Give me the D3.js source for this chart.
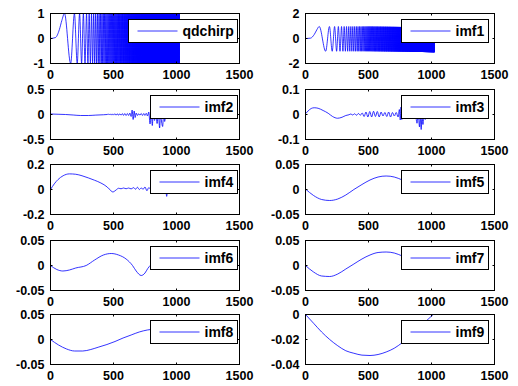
<!DOCTYPE html>
<html>
<head>
    <meta charset="utf-8">
    <title>qdchirp EMD</title>
    <script src="https://cdn.jsdelivr.net/npm/d3@7"></script>
    <style>
        html, body { margin: 0; background: #fff; }
        svg { display: block; }
        text { font-family: "Liberation Sans", Arial, Helvetica, sans-serif; font-weight: bold; fill: #000; }
        .tick-label { font-size: 12.5px; }
        .legend-label { font-size: 14px; }
    </style>
</head>
<body>
<svg></svg>
<script>
    var W = 518, H = 386;

    // ---- data ----
    var xTicks = [0, 500, 1000, 1500];
    var grid = [0, 64, 128, 192, 256, 320, 384, 448, 512, 576, 640, 704, 768, 832, 896, 960, 1024];

    // first (resolvable) extrema of the chirp, then the dense band: [x, cycle length, low, high]
    var qdchirpX = [0, 40, 70, 90, 111, 160, 190, 212, 231, 247, 261, 274, 286, 297, 307];
    var qdchirpY = [0, 0.04, 0.35, 0.72, 1, -1, 1, -1, 1, -1, 1, -1, 1, -1, 1];
    var qdchirpBand = [[307, 19, -1, 1], [400, 11, -1, 1], [500, 7.3, -1, 1], [650, 4.3, -1, 1], [800, 2.8, -1, 1], [1024, 1.8, -1, 1]];

    var imf1X = [0, 40, 70, 90, 109, 160, 190, 212, 231, 247, 261, 274, 286, 297, 307];
    var imf1Y = [0, 0.03, 0.33, 0.7, 0.96, -1.02, 0.96, -1.02, 0.96, -1.02, 0.96, -1.02, 0.96, -1.02, 0.96];
    var imf1Band = [[307, 19, -1.02, 0.96], [500, 7.3, -1.02, 0.96], [770, 3.4, -1.05, 0.92], [1024, 1.8, -1.1, 0.85]];

    var imf2X = [0, 60, 120, 180, 240, 300, 360, 420, 450, 460, 468, 476, 484, 492, 500, 510, 520, 530, 540, 550, 560, 570, 580, 590, 600, 610, 620, 630, 640, 648, 656, 664, 672, 680, 690, 700, 710, 720, 730, 740, 750, 760, 770, 780, 790, 800, 808, 816, 826, 836, 846, 856, 866, 874, 882, 890, 898, 906, 916, 930, 950, 980, 1024];
    var imf2Y = [0.01, 0.005, 0, -0.01, -0.02, -0.02, -0.012, -0.005, 0, 0.01, -0.01, 0.012, -0.012, 0.012, -0.012, 0.015, -0.015, 0.015, -0.015, 0.015, -0.015, 0.018, -0.018, 0.02, -0.02, 0.02, -0.02, 0.03, -0.04, 0.09, -0.1, 0.07, -0.06, 0.03, -0.02, 0.015, -0.015, 0.02, -0.02, 0.02, -0.02, 0.025, -0.03, 0.05, -0.19, 0.05, -0.22, 0.04, -0.12, 0.05, -0.18, 0.05, -0.27, 0.04, -0.15, -0.24, 0.03, -0.14, 0.02, -0.05, 0.01, 0, 0];

    var imf3X = [0, 20, 45, 69, 100, 140, 180, 215, 254, 290, 320, 345, 360, 375, 390, 405, 420, 435, 450, 465, 480, 495, 510, 525, 540, 555, 570, 585, 600, 615, 630, 645, 660, 675, 690, 705, 720, 735, 745, 752, 758, 764, 770, 778, 790, 810, 830, 850, 870, 885, 895, 905, 912, 918, 925, 932, 940, 950, 970, 1000, 1024];
    var imf3Y = [0.003, 0.014, 0.024, 0.027, 0.025, 0.016, 0.005, -0.008, -0.015, -0.011, -0.004, -0.001, 0.002, -0.002, 0.003, -0.003, 0.004, -0.003, 0.006, -0.008, 0.01, -0.01, 0.012, -0.01, 0.013, -0.008, 0.012, -0.01, 0.01, -0.006, 0.008, -0.008, 0.01, -0.01, 0.008, -0.006, 0.008, -0.01, 0.02, -0.022, 0.03, -0.02, 0.025, -0.015, 0.01, -0.01, 0.01, -0.01, 0.01, -0.035, 0, -0.05, 0, -0.06, 0, -0.04, 0, -0.02, 0, 0, 0];

    var imf4X = [0, 30, 60, 100, 150, 200, 250, 300, 350, 400, 450, 480, 495, 510, 525, 540, 560, 580, 600, 620, 640, 660, 675, 690, 705, 720, 735, 750, 765, 780, 800, 830, 860, 890, 905, 915, 922, 930, 940, 960, 1024];
    var imf4Y = [0, 0.045, 0.08, 0.11, 0.125, 0.122, 0.11, 0.093, 0.074, 0.052, 0.02, -0.01, -0.02, -0.012, 0, 0.01, 0.006, 0.012, 0.006, 0.012, 0.005, 0.015, 0.002, 0.018, 0, 0.012, 0.002, 0.02, -0.01, 0.015, 0, 0.01, -0.005, 0.01, -0.03, 0, -0.055, 0, -0.02, 0, 0];

    var imf5 = [0.001, -0.012, -0.020, -0.022, -0.019, -0.011, 0.000, 0.010, 0.019, 0.025, 0.027, 0.025, 0.019, 0.011, 0.004, -0.001, -0.005];

    var imf6X = [0, 50, 98, 150, 200, 283, 350, 420, 482, 540, 600, 651, 680, 720, 750, 772, 820, 880, 950, 1024];
    var imf6Y = [0, -0.008, -0.011, -0.009, -0.005, 0, 0.011, 0.021, 0.024, 0.021, 0.013, 0, -0.011, -0.02, -0.015, -0.006, 0.006, 0.012, 0.012, 0.008];

    var imf7 = [0.000, -0.013, -0.021, -0.022, -0.017, -0.007, 0.003, 0.013, 0.021, 0.026, 0.027, 0.025, 0.019, 0.012, 0.004, -0.002, -0.006];
    var imf8 = [0, -0.011, -0.019, -0.023, -0.023, -0.020, -0.015, -0.010, -0.004, 0.003, 0.009, 0.015, 0.019, 0.021, 0.022, 0.021, 0.019];
    var imf9 = [0, -0.007, -0.014, -0.020, -0.025, -0.029, -0.031, -0.0325, -0.0328, -0.032, -0.030, -0.027, -0.0225, -0.017, -0.011, -0.005, 0.001];

    var names = ["qdchirp", "imf1", "imf2", "imf3", "imf4", "imf5", "imf6", "imf7", "imf8", "imf9"];
    var yDomains = [[-1, 1], [-2, 2], [-0.5, 0.5], [-0.1, 0.1], [-0.2, 0.2], [-0.05, 0.05], [-0.05, 0.05], [-0.05, 0.05], [-0.05, 0.05], [-0.04, 0]];
    var yTickLabels = [
        ["-1", "0", "1"], ["-2", "0", "2"], ["-0.5", "0", "0.5"], ["-0.1", "0", "0.1"], ["-0.2", "0", "0.2"],
        ["-0.05", "0", "0.05"], ["-0.05", "0", "0.05"], ["-0.05", "0", "0.05"], ["-0.05", "0", "0.05"], ["-0.04", "-0.02", "0"]
    ];

    function zip(xs, ys) { return xs.map(function (x, i) { return [x, ys[i]]; }); }

    // walk the dense band knot by knot, alternating low/high every half cycle
    function bandPoints(start, knots) {
        var pts = [], x = start[0], up = start[1] < 0, k = 0;
        var end = knots[knots.length - 1][0];
        while (true) {
            while (k < knots.length - 2 && x > knots[k + 1][0]) k++;
            var a = knots[k], b = knots[k + 1];
            var t = Math.max(0, Math.min(1, (x - a[0]) / (b[0] - a[0])));
            var per = a[1] + (b[1] - a[1]) * t;
            var lo = a[2] + (b[2] - a[2]) * t, hi = a[3] + (b[3] - a[3]) * t;
            x += per / 2;
            if (x > end) break;
            pts.push([x, up ? hi : lo]);
            up = !up;
        }
        pts.push([end, 0]);
        return pts;
    }

    var qdPts = zip(qdchirpX, qdchirpY);
    var im1Pts = zip(imf1X, imf1Y);
    var series = [
        qdPts.concat(bandPoints(qdPts[qdPts.length - 1], qdchirpBand)),
        im1Pts.concat(bandPoints(im1Pts[im1Pts.length - 1], imf1Band)),
        zip(imf2X, imf2Y),
        zip(imf3X, imf3Y),
        zip(imf4X, imf4Y),
        zip(grid, imf5),
        zip(imf6X, imf6Y),
        zip(grid, imf7),
        zip(grid, imf8),
        zip(grid, imf9)
    ];

    // ---- layout ----
    var colX = [50.5, 305.5], axW = 189, axH = 50;
    var rowY = [13.5, 89.5, 164.5, 240.5, 314.5];
    var legendRight = [237.5, 488.5];

    var svg = d3.select("svg").attr("width", W).attr("height", H);

    names.forEach(function (name, i) {
        var col = i % 2, row = Math.floor(i / 2);
        var x0 = colX[col], y0 = rowY[row];
        var x = d3.scaleLinear().domain([0, 1500]).range([x0, x0 + axW]);
        var y = d3.scaleLinear().domain(yDomains[i]).range([y0 + axH, y0]);
        var yTicks = [yDomains[i][0], (yDomains[i][0] + yDomains[i][1]) / 2, yDomains[i][1]];

        var g = svg.append("g");

        g.append("clipPath").attr("id", "clip" + i)
            .append("rect").attr("x", x0).attr("y", y0).attr("width", axW).attr("height", axH);

        var line = d3.line().curve(d3.curveMonotoneX)
            .x(function (d) { return x(d[0]); })
            .y(function (d) { return y(d[1]); });

        g.append("path")
            .datum(series[i])
            .attr("clip-path", "url(#clip" + i + ")")
            .attr("fill", "none")
            .attr("stroke", "#0000ff")
            .attr("stroke-width", 0.8)
            .attr("d", line);

        // box
        g.append("rect")
            .attr("x", x0).attr("y", y0).attr("width", axW).attr("height", axH)
            .attr("fill", "none").attr("stroke", "#000").attr("stroke-width", 1);

        // inward ticks on all sides
        xTicks.forEach(function (t) {
            var px = x(t);
            g.append("line").attr("x1", px).attr("x2", px).attr("y1", y0 + axH).attr("y2", y0 + axH - 2).attr("stroke", "#000");
            g.append("line").attr("x1", px).attr("x2", px).attr("y1", y0).attr("y2", y0 + 2).attr("stroke", "#000");
            g.append("text").attr("class", "tick-label")
                .attr("x", px).attr("y", y0 + axH + 15)
                .attr("text-anchor", "middle")
                .text(t);
        });
        yTicks.forEach(function (t, j) {
            var py = y(t);
            g.append("line").attr("x1", x0).attr("x2", x0 + 2).attr("y1", py).attr("y2", py).attr("stroke", "#000");
            g.append("line").attr("x1", x0 + axW).attr("x2", x0 + axW - 2).attr("y1", py).attr("y2", py).attr("stroke", "#000");
            g.append("text").attr("class", "tick-label")
                .attr("x", x0 - 6).attr("y", py + 4.5)
                .attr("text-anchor", "end")
                .text(yTickLabels[i][j]);
        });

        // legend
        var lg = g.append("g");
        var box = lg.append("rect");
        var lbl = lg.append("text").attr("class", "legend-label").text(name);
        var tw = lbl.node().getComputedTextLength();
        var lw = Math.round(tw + 58), lx = legendRight[col] - lw, ly = y0 + 6;
        box.attr("x", lx).attr("y", ly).attr("width", lw).attr("height", 23)
            .attr("fill", "#fff").attr("stroke", "#000").attr("stroke-width", 1);
        lg.append("line")
            .attr("x1", lx + 9).attr("x2", lx + 49)
            .attr("y1", ly + 11.5).attr("y2", ly + 11.5)
            .attr("stroke", "#0000ff").attr("stroke-width", 0.8);
        lbl.attr("x", lx + 54).attr("y", ly + 16.5);
    });
</script>
</body>
</html>
